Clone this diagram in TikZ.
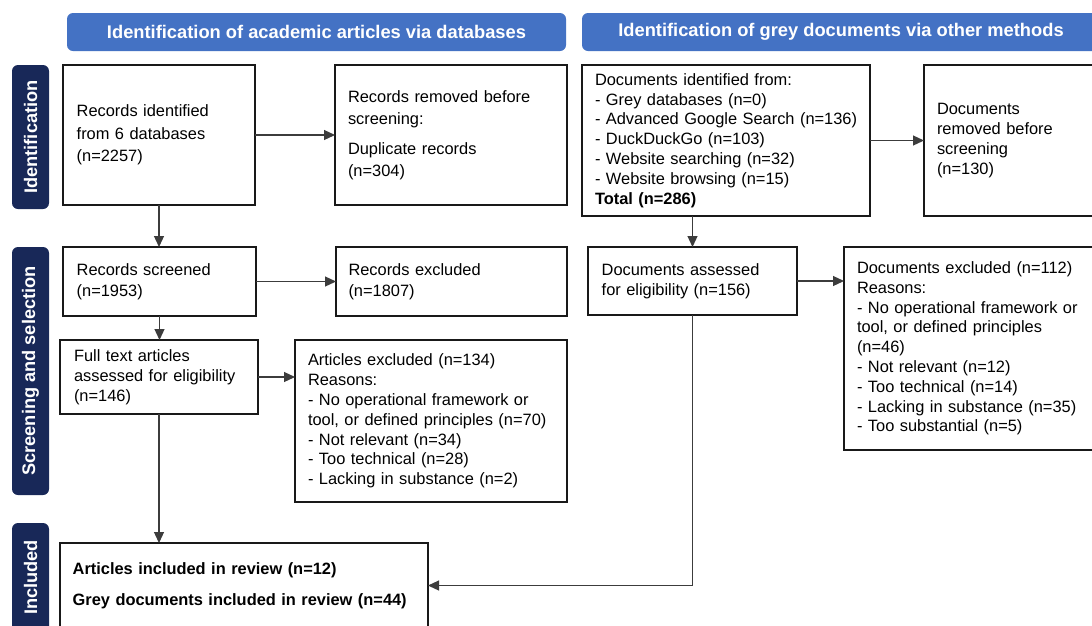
\documentclass[tikz,border=0pt]{standalone}
\usepackage{fontspec}
\setmainfont{Liberation Sans}
\usetikzlibrary{arrows.meta}
\definecolor{hdrblue}{RGB}{68,114,196}
\definecolor{navy}{RGB}{24,40,88}
\definecolor{edgegray}{RGB}{60,60,60}
\begin{document}
\begin{tikzpicture}[x=1pt,y=-1pt,
  box/.style={draw=black!90, line width=1.7pt, fill=white, outer sep=0pt, inner ysep=0pt, align=left, font=\fontsize{16.4}{19.8}\selectfont},
  hdr/.style={fill=hdrblue, rounded corners=6pt, text=white, font=\bfseries\fontsize{18.3}{22}\selectfont, inner sep=0pt},
  side/.style={fill=navy, rounded corners=6pt, text=white, font=\bfseries\fontsize{18.2}{22}\selectfont, rotate=90, inner sep=0pt},
  arr/.style={draw=edgegray, line width=1.2pt, -{Triangle[length=11pt,width=10pt]}}]
\path[use as bounding box, clip] (0,0) rectangle (1092,625);
\fill[white] (0,0) rectangle (1092,625);

% headers
\node[hdr, minimum width=499, minimum height=38] (h1) at (316.5,32) {Identification of academic articles via databases};
\node[hdr, minimum width=518, minimum height=38] (h2) at (841,32) {Identification of grey documents via other methods};

% side labels
\node[side, minimum width=144, minimum height=37] (s1) at (30.5,137) {Identification};
\node[side, minimum width=248, minimum height=37] (s2) at (30.5,371) {Screening and selection};
\node[side, minimum width=109, minimum height=37] (s3) at (30.5,577.5) {Included};

% left column
\node[box, minimum width=192, minimum height=140, inner xsep=13.7, text width=164.6, font=\fontsize{16.4}{22.5}\selectfont] (A) at (159,135)
  {Records identified\\from 6 databases\\(n=2257)};
\node[box, minimum width=232, minimum height=140, inner xsep=13, text width=206, font=\fontsize{16.4}{21.5}\selectfont] (B) at (451,135)
  {Records removed before\\screening:\\[9pt]Duplicate records\\(n=304)};
\node[box, minimum width=193, minimum height=69, inner xsep=13.7, text width=165.6, font=\fontsize{16.4}{20.5}\selectfont] (C) at (159.5,281.5)
  {Records screened\\(n=1953)};
\node[box, minimum width=231, minimum height=69, inner xsep=12.5, text width=206, font=\fontsize{16.4}{20.5}\selectfont] (D) at (451.5,281.5)
  {Records excluded\\(n=1807)};
\node[box, minimum width=198, minimum height=74, inner xsep=14, text width=170] (E) at (159,377)
  {Full text articles\\assessed for eligibility\\(n=146)};
\node[box, minimum width=272, minimum height=162, inner xsep=13, text width=246] (F) at (431,421)
  {Articles excluded (n=134)\\Reasons:\\- No operational framework or\\\mbox{tool, or defined principles (n=70)}\\- Not relevant (n=34)\\- Too technical (n=28)\\- Lacking in substance (n=2)};
\node[box, minimum width=368, minimum height=85, inner xsep=12.7, text width=342.6] (G) at (244,585.5)
  {\textbf{Articles included in review (n=12)}\\[11pt]\textbf{Grey documents included in review (n=44)}};

% right column
\node[box, minimum width=288, minimum height=151, inner xsep=13, text width=262] (H) at (726,140.5)
  {Documents identified from:\\- Grey databases (n=0)\\\mbox{- Advanced Google Search (n=136)}\\- DuckDuckGo (n=103)\\- Website searching (n=32)\\- Website browsing (n=15)\\\textbf{Total (n=286)}};
\node[box, minimum width=186, minimum height=151, inner xsep=13, text width=160] (I) at (1017,140.5)
  {Documents\\removed before\\screening\\(n=130)};
\node[box, minimum width=209, minimum height=68, inner xsep=13.7, text width=181.6, font=\fontsize{16.4}{20.2}\selectfont] (J) at (692.5,281)
  {Documents assessed\\for eligibility (n=156)};
\node[box, minimum width=266, minimum height=203, inner xsep=13, text width=240] (K) at (977,348.5)
  {Documents excluded (n=112)\\Reasons:\\\mbox{- No operational framework or}\\tool, or defined principles\\(n=46)\\- Not relevant (n=12)\\- Too technical (n=14)\\- Lacking in substance (n=35)\\- Too substantial (n=5)};

% connectors
\draw[arr] (A) -- (B);
\draw[arr] (C) -- (D);
\draw[arr] (E.east) -- (E.east -| F.west);
\draw[arr] (A.south) -- (A.south |- C.north);
\draw[arr] (C.south) -- (C.south |- E.north);
\draw[arr] (E.south) -- (E.south |- G.north);
\draw[arr] (H) -- (I);
\draw[arr] (J.north |- H.south) -- (J.north);
\draw[arr] (J.east) -- (J.east -| K.west);
\draw[arr] (J.south) |- (G.east);
\end{tikzpicture}
\end{document}
